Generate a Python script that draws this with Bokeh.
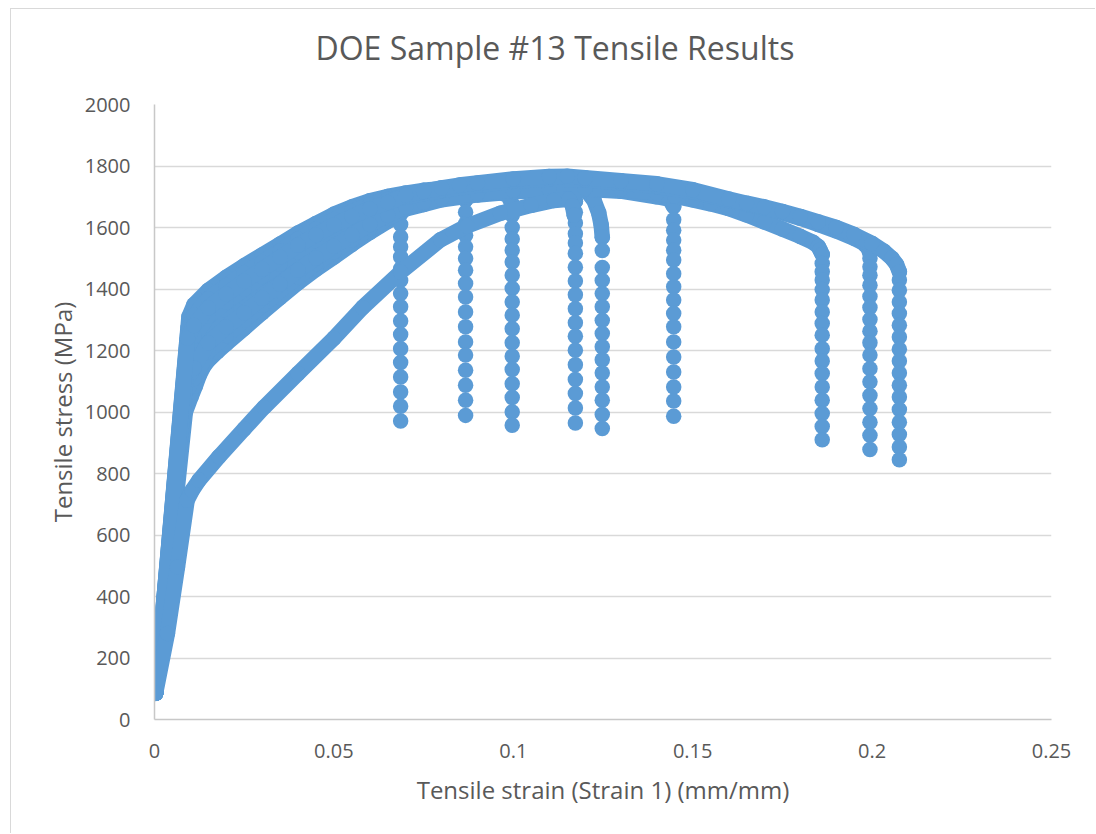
from bokeh.plotting import figure
from bokeh.models import Range1d, FixedTicker, LinearAxis
from bokeh.embed import file_html
from bokeh.resources import INLINE

# ---- Tensile test data: strain (mm/mm) and stress (MPa) per specimen ----
# Each specimen: the loading curve, then the stress readings recorded
# while the load fell off at fracture (same strain as the last curve point).

s1_strain = [0.0003, 0.0086, 0.0102, 0.0114, 0.0125, 0.0137, 0.015, 0.0175, 0.02, 0.025, 0.03, 0.035,
             0.04, 0.045, 0.05, 0.055, 0.06, 0.065, 0.0686]
s1_stress = [85, 1000, 1050, 1085, 1120, 1148, 1168, 1196, 1222, 1272, 1323, 1372,
             1420, 1464, 1504, 1545, 1584, 1620, 1645]
s1_drop = [1610, 1569, 1537, 1504, 1466, 1428, 1385, 1342, 1296, 1252, 1206, 1161, 1114, 1065, 1019, 971]

s2_strain = [0.0003, 0.0096, 0.011, 0.015, 0.02, 0.025, 0.03, 0.035, 0.04, 0.045, 0.05, 0.055,
             0.06, 0.065, 0.07, 0.075, 0.08, 0.0855, 0.0862, 0.0867]
s2_stress = [85, 1310, 1349, 1396, 1438, 1476, 1511, 1546, 1582, 1613, 1643, 1667,
             1687, 1701, 1712, 1721, 1726, 1730, 1715, 1690]
s2_drop = [1650, 1612, 1575, 1537, 1499, 1461, 1418, 1374, 1325, 1277, 1228, 1185, 1136, 1087, 1038, 989]

s3_strain = [0.0003, 0.0088, 0.011, 0.015, 0.02, 0.025, 0.03, 0.035, 0.04, 0.045, 0.05, 0.055,
             0.06, 0.065, 0.07, 0.075, 0.08, 0.09, 0.095, 0.0985, 0.0997]
s3_stress = [85, 1135, 1178, 1254, 1303, 1349, 1394, 1437, 1481, 1520, 1556, 1591,
             1623, 1650, 1674, 1689, 1702, 1716, 1718, 1705, 1675]
s3_drop = [1640, 1600, 1563, 1526, 1488, 1445, 1402, 1358, 1315, 1271, 1225, 1181, 1138, 1092, 1047, 1000, 957]

s4_strain = [0.0003, 0.0089, 0.011, 0.015, 0.02, 0.025, 0.03, 0.035, 0.04, 0.045, 0.05, 0.055,
             0.06, 0.065, 0.07, 0.075, 0.08, 0.09, 0.10, 0.11, 0.115, 0.1162, 0.1168, 0.1173]
s4_stress = [85, 1170, 1212, 1282, 1330, 1374, 1417, 1459, 1501, 1539, 1574, 1606,
             1636, 1661, 1681, 1695, 1707, 1722, 1733, 1740, 1740, 1730, 1712, 1685]
s4_drop = [1650, 1615, 1580, 1550, 1516, 1471, 1426, 1381, 1336, 1290, 1246, 1201, 1154, 1106, 1060, 1013, 964]

s5_strain = [0.0003, 0.0091, 0.011, 0.015, 0.02, 0.025, 0.03, 0.035, 0.04, 0.045, 0.05, 0.055,
             0.06, 0.065, 0.07, 0.075, 0.08, 0.09, 0.10, 0.11, 0.117, 0.1205, 0.1225, 0.1238,
             0.1245, 0.1248]
s5_stress = [85, 1205, 1246, 1311, 1357, 1400, 1441, 1481, 1521, 1557, 1591, 1621,
             1648, 1671, 1688, 1701, 1712, 1728, 1738, 1744, 1740, 1718, 1688, 1648,
             1608, 1568]
s5_drop = [1525, 1470, 1428, 1385, 1342, 1298, 1255, 1212, 1170, 1127, 1081, 1038, 992, 946]

s6_strain = [0.0003, 0.0086, 0.011, 0.015, 0.02, 0.025, 0.03, 0.035, 0.04, 0.045, 0.05, 0.055,
             0.06, 0.065, 0.07, 0.075, 0.08, 0.09, 0.10, 0.11, 0.12, 0.13, 0.14, 0.1435, 0.1447]
s6_stress = [85, 1065, 1109, 1197, 1249, 1298, 1347, 1394, 1440, 1483, 1521, 1560,
             1597, 1630, 1660, 1675, 1690, 1706, 1716, 1721, 1724, 1718, 1700, 1692, 1668]
s6_drop = [1625, 1591, 1559, 1526, 1494, 1450, 1407, 1364, 1320, 1277, 1228, 1179, 1130, 1081, 1036, 986]

s7_strain = [0.0003, 0.0087, 0.011, 0.015, 0.02, 0.025, 0.03, 0.035, 0.04, 0.045, 0.05, 0.055,
             0.06, 0.065, 0.07, 0.075, 0.08, 0.09, 0.10, 0.11, 0.12, 0.13, 0.14, 0.145, 0.15,
             0.155, 0.16, 0.165, 0.17, 0.175, 0.18, 0.1835, 0.185, 0.1855, 0.1861]
s7_stress = [85, 1100, 1144, 1225, 1276, 1323, 1370, 1416, 1461, 1501, 1539, 1575,
             1610, 1640, 1667, 1682, 1696, 1711, 1721, 1726, 1728, 1724, 1712, 1702, 1690,
             1677, 1662, 1641, 1618, 1595, 1571, 1552, 1538, 1527, 1512]
s7_drop = [1483, 1456, 1429, 1398, 1364, 1325, 1288, 1250, 1206, 1166, 1125, 1081, 1038, 995, 953, 910]

s8_strain = [0.0003, 0.0094, 0.011, 0.015, 0.02, 0.025, 0.03, 0.035, 0.04, 0.045, 0.05, 0.055,
             0.06, 0.065, 0.07, 0.075, 0.08, 0.09, 0.10, 0.11, 0.12, 0.13, 0.14, 0.15, 0.16,
             0.165, 0.17, 0.175, 0.18, 0.185, 0.19, 0.195, 0.1975, 0.1988, 0.1994]
s8_stress = [85, 1275, 1315, 1368, 1411, 1451, 1488, 1524, 1562, 1594, 1626, 1652,
             1674, 1691, 1698, 1710, 1720, 1737, 1750, 1758, 1755, 1745, 1733, 1716, 1688,
             1676, 1664, 1648, 1630, 1610, 1589, 1565, 1550, 1535, 1518]
s8_drop = [1499, 1472, 1445, 1412, 1376, 1340, 1301, 1263, 1225, 1185, 1141, 1098, 1054, 1011, 967, 924, 878]

s9_strain = [0.0003, 0.0092, 0.011, 0.015, 0.02, 0.025, 0.03, 0.035, 0.04, 0.045, 0.05, 0.055,
             0.06, 0.065, 0.07, 0.075, 0.08, 0.085, 0.09, 0.10, 0.11, 0.115, 0.12, 0.13, 0.14,
             0.15, 0.16, 0.165, 0.17, 0.175, 0.18, 0.185, 0.19, 0.195, 0.20, 0.2033, 0.2055,
             0.2068, 0.2076]
s9_stress = [85, 1240, 1281, 1339, 1384, 1425, 1464, 1503, 1542, 1576, 1608, 1636,
             1661, 1681, 1705, 1717, 1729, 1738, 1745, 1758, 1766, 1767, 1762, 1752, 1742,
             1723, 1693, 1679, 1667, 1652, 1636, 1618, 1600, 1577, 1548, 1523, 1500,
             1480, 1456]
s9_drop = [1429, 1396, 1358, 1320, 1282, 1244, 1204, 1166, 1127, 1087, 1049, 1008, 967, 927, 886, 845]

s10_strain = [0.0003, 0.0036, 0.0064, 0.0091, 0.0105, 0.0124, 0.018, 0.025, 0.0305, 0.04, 0.05, 0.058,
              0.0686, 0.0797, 0.0871, 0.0964, 0.105, 0.1113, 0.1155, 0.1165, 0.117]
s10_stress = [85, 280, 496, 713, 745, 778, 855, 945, 1015, 1125, 1240, 1340,
              1455, 1560, 1605, 1646, 1672, 1688, 1692, 1670, 1640]
s10_drop = []

x_ticks = [0, 0.05, 0.1, 0.15, 0.2, 0.25]
x_tick_labels = ["0", "0.05", "0.1", "0.15", "0.2", "0.25"]
y_ticks = [0, 200, 400, 600, 800, 1000, 1200, 1400, 1600, 1800, 2000]

specimens = [
    (s1_strain, s1_stress, s1_drop),
    (s2_strain, s2_stress, s2_drop),
    (s3_strain, s3_stress, s3_drop),
    (s4_strain, s4_stress, s4_drop),
    (s5_strain, s5_stress, s5_drop),
    (s6_strain, s6_stress, s6_drop),
    (s7_strain, s7_stress, s7_drop),
    (s8_strain, s8_stress, s8_drop),
    (s9_strain, s9_stress, s9_drop),
    (s10_strain, s10_stress, s10_drop),
]

BLUE = "#5B9BD5"
TEXT = "#595959"
FONT = "Open Sans"
MARK = 15.5

p = figure(
    width=1085, height=825,
    x_range=Range1d(0, 0.25), y_range=Range1d(0, 2000),
    output_backend="svg", toolbar_location=None,
    min_border_left=143, min_border_right=45,
    min_border_top=95, min_border_bottom=115,
    background_fill_color="white", border_fill_color="white",
)
p.styles = {
    "margin-left": "10px", "margin-top": "8px",
    "border-left": "1px solid #D9D9D9", "border-top": "1px solid #D9D9D9",
}
p.outline_line_color = None

bottom_axis = p.below[0]
left_axis = p.left[0]

# invisible top axis: its (undrawn) tick length keeps a gap between
# the plot area and the title
gap_axis = LinearAxis(
    ticker=FixedTicker(ticks=[0.1]),
    major_label_overrides={0.1: ""},
    axis_line_color=None,
    major_tick_line_color=None, minor_tick_line_color=None,
    major_label_text_font_size="0px",
    major_tick_out=36, major_tick_in=0, major_label_standoff=0,
)
p.add_layout(gap_axis, "above")

# chart title in the top margin
p.title.text = "DOE Sample #13 Tensile Results"
p.title.align = "left"
p.title.offset = 161
p.title.vertical_align = "bottom"
p.title.standoff = 0
p.title.text_font = FONT
p.title.text_font_size = "32px"
p.title.text_font_style = "normal"
p.title.text_color = TEXT

for strain, stress, drop in specimens:
    # dense loading curve drawn as a thick stroke under the markers
    p.line(strain, stress, line_width=MARK, line_color=BLUE,
           line_join="round", line_cap="round")
    xs = list(strain) + [strain[-1]] * len(drop)
    ys = list(stress) + list(drop)
    p.scatter(xs, ys, size=MARK, fill_color=BLUE, line_color=None)

# axes
bottom_axis.ticker = FixedTicker(ticks=x_ticks)
bottom_axis.major_label_overrides = dict(zip(x_ticks, x_tick_labels))
left_axis.ticker = FixedTicker(ticks=y_ticks)
p.ygrid.ticker = FixedTicker(ticks=y_ticks)
p.xgrid.visible = False
p.ygrid.grid_line_color = "#D9D9D9"
p.ygrid.grid_line_width = 1.5

for ax in (bottom_axis, left_axis):
    ax.axis_line_color = "#C8C8C8"
    ax.axis_line_width = 1.5
    ax.major_tick_line_color = None
    ax.minor_tick_line_color = None
    ax.major_label_text_font = FONT
    ax.major_label_text_font_size = "20px"
    ax.major_label_text_color = TEXT
    ax.axis_label_text_font = FONT
    ax.axis_label_text_font_size = "24px"
    ax.axis_label_text_font_style = "normal"
    ax.axis_label_text_color = TEXT

bottom_axis.axis_label = "Tensile strain (Strain 1) (mm/mm)"
left_axis.axis_label = "Tensile stress (MPa)"
bottom_axis.major_label_standoff = 18
left_axis.major_label_standoff = 18
bottom_axis.axis_label_standoff = 12
left_axis.axis_label_standoff = 3

open("out.html", "w").write(file_html(p, INLINE))
